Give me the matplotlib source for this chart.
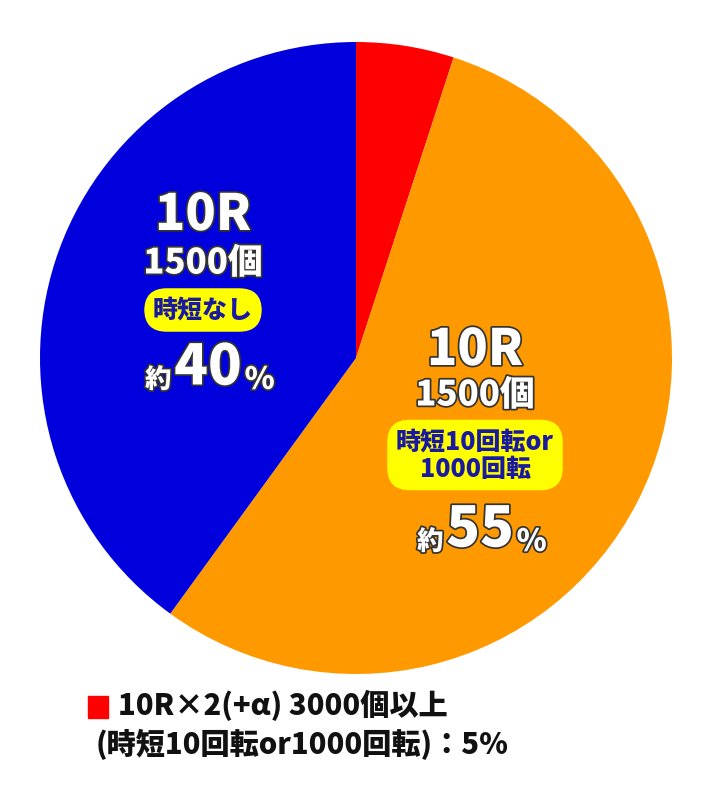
import matplotlib
matplotlib.use("Agg")
import matplotlib.pyplot as plt
import matplotlib.patheffects as pe

plt.rcParams['font.family'] = ['Noto Sans CJK JP', 'DejaVu Sans']

shares = [5, 55, 40]
colors = ["#ff0000", "#ff9900", "#0000dd"]
labels_jitan = ["時短なし", "時短10回転or\n1000回転"]
labels_pct = ["40", "55"]

fig = plt.figure(figsize=(7.12, 8), dpi=100)
ax = fig.add_axes([(356 - 316) / 712, 1 - (358 + 316) / 800, 632 / 712, 632 / 800])
ax.pie(shares, colors=colors, startangle=90, counterclock=False,
       wedgeprops=dict(linewidth=0))
ax.set_aspect("auto")
ax.set_xlim(-1, 1)
ax.set_ylim(-1, 1)


def px(x, y):
    return x / 712, 1 - y / 800


stroke = [pe.withStroke(linewidth=2.5, foreground="#333333")]
W = "heavy"


def block(cx, y_round, y_balls, y_box, y_pct, jitan, pct):
    fig.text(*px(cx, y_round), "10R", color="white", fontsize=36, weight=W,
             ha="center", va="center", path_effects=stroke)
    fig.text(*px(cx, y_balls), "1500個", color="white", fontsize=25, weight=W,
             ha="center", va="center", path_effects=stroke)
    fig.text(*px(cx, y_box), jitan, color="#1a1aa0", fontsize=18, weight=W,
             ha="center", va="center", linespacing=1.05,
             bbox=dict(boxstyle="round,pad=0.35,rounding_size=0.9", fc="#ffff00", ec="none"))
    t = fig.text(*px(cx + 5, y_pct), pct, color="white", fontsize=40, weight=W,
                 ha="center", va="center", path_effects=stroke)
    fig.text(0, 0, "約", color="white", fontsize=19, weight=W, ha="right", va="baseline",
             path_effects=stroke, transform=matplotlib.transforms.offset_copy(
                 fig.transFigure, fig=fig, x=0, y=0))
    fig.texts.pop()
    ax.annotate("約", xy=(0, 0.3), xycoords=t, xytext=(-2, 0), textcoords="offset points",
                color="white", fontsize=19, weight=W, ha="right", va="center",
                path_effects=stroke, annotation_clip=False)
    ax.annotate("%", xy=(1, 0.3), xycoords=t, xytext=(2, 0), textcoords="offset points",
                color="white", fontsize=22, weight=W, ha="left", va="center",
                path_effects=stroke, annotation_clip=False)


block(203, 215, 263, 310, 368, labels_jitan[0], labels_pct[0])
block(475, 350, 395, 455, 530, labels_jitan[1], labels_pct[1])

fig.patches.append(plt.Rectangle(px(88, 718), 20 / 712, 22 / 800, color="#ff0000",
                                 transform=fig.transFigure))
fig.text(*px(118, 705), "10R×2(+α) 3000個以上", fontsize=21, weight=W,
         ha="left", va="center", color="#111111")
fig.text(*px(96, 744), "(時短10回転or1000回転)：5%", fontsize=21, weight=W,
         ha="left", va="center", color="#111111")

fig.savefig("out.png", dpi=100)
